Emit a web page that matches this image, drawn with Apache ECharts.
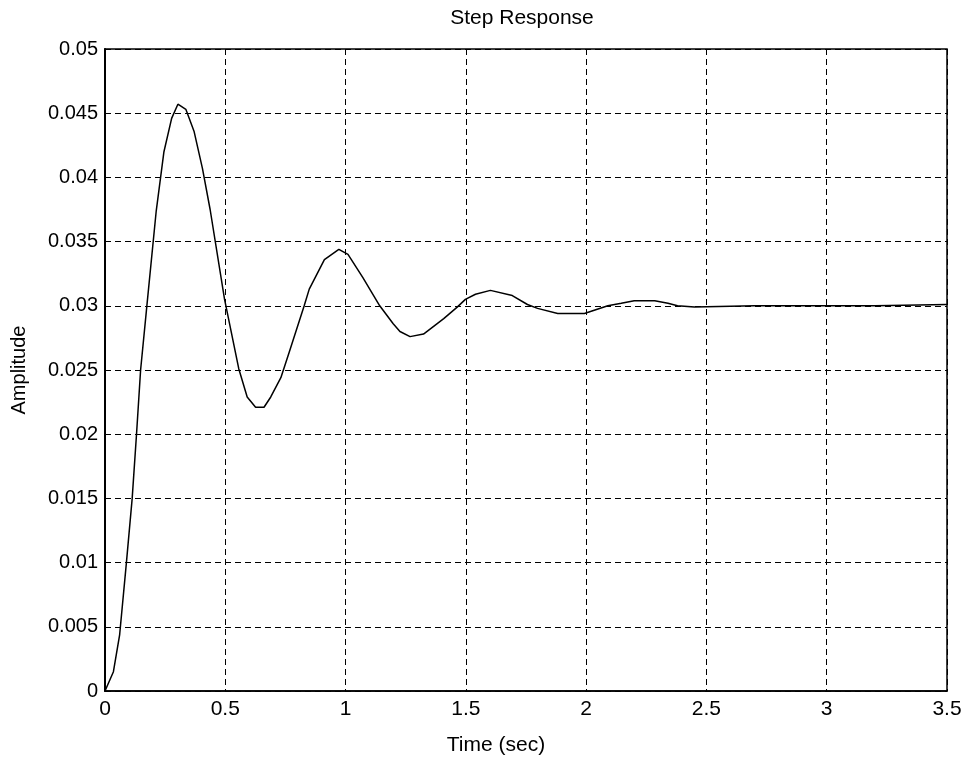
<!DOCTYPE html>
<html>
<head>
<meta charset="utf-8">
<title>Step Response</title>
<script src="https://cdn.jsdelivr.net/npm/echarts@6/dist/echarts.min.js"></script>
<style>
    html, body { margin: 0; padding: 0; background: #fff; }
    #chart { width: 964px; height: 758px; }
</style>
</head>
<body>
<div id="chart"></div>
<script>
// values
var timeSec = [0, 0.035, 0.061, 0.089, 0.113, 0.131, 0.148, 0.172, 0.213, 0.245, 0.277, 0.303,
    0.336, 0.370, 0.405, 0.437, 0.497, 0.556, 0.591, 0.626, 0.661, 0.689, 0.731, 0.766,
    0.828, 0.849, 0.912, 0.972, 1.010, 1.072, 1.142, 1.198, 1.226, 1.268, 1.324, 1.408,
    1.464, 1.498, 1.540, 1.602, 1.693, 1.756, 1.798, 1.882, 1.993, 2.090, 2.146, 2.200,
    2.285, 2.340, 2.380, 2.450, 2.700, 3.000, 3.200, 3.500];
var amplitude = [0, 0.0015, 0.0044, 0.0100, 0.0150, 0.0200, 0.0250, 0.0296, 0.0374, 0.0420, 0.0446, 0.0457,
    0.0453, 0.0436, 0.0407, 0.0375, 0.0305, 0.0251, 0.0229, 0.0221, 0.0221, 0.0229, 0.0244, 0.0264,
    0.0300, 0.0313, 0.0336, 0.0344, 0.0340, 0.0322, 0.0300, 0.0286, 0.0280, 0.0276, 0.0278, 0.0290,
    0.0299, 0.0305, 0.0309, 0.0312, 0.0308, 0.0301, 0.0298, 0.0294, 0.0294, 0.0300, 0.0302, 0.0304,
    0.0304, 0.0302, 0.0300, 0.0299, 0.0300, 0.0300, 0.0300, 0.0301];
var xTicks = ['0', '0.5', '1', '1.5', '2', '2.5', '3', '3.5'];
var yTicks = ['0', '0.005', '0.01', '0.015', '0.02', '0.025', '0.03', '0.035', '0.04', '0.045', '0.05'];

var font = '"Liberation Sans", Arial, sans-serif';
var dashed = { color: '#000', width: 1, type: [6, 4] };

var points = timeSec.map(function (t, i) { return [t, amplitude[i]]; });

var option = {
    backgroundColor: '#fff',
    animation: false,
    title: {
        text: 'Step Response',
        left: 517,
        top: 3,
        textAlign: 'center',
        textStyle: { fontFamily: font, fontSize: 21, fontWeight: 'normal', color: '#000' }
    },
    grid: {
        left: 105, right: 17, top: 49, bottom: 67,
        outerBoundsMode: 'none',
        containLabel: false,
        show: true, borderColor: '#000', borderWidth: 1.5, backgroundColor: '#fff'
    },
    xAxis: {
        type: 'value',
        min: 0, max: 3.5, interval: 0.5,
        name: 'Time (sec)',
        nameLocation: 'middle',
        nameGap: 44,
        nameTextStyle: { fontFamily: font, fontSize: 21, color: '#000', padding: [0, 60, 0, 0] },
        axisLine: { show: true, lineStyle: { color: '#000', width: 1.5 } },
        axisTick: { show: false },
        axisLabel: {
            fontFamily: font, fontSize: 21, color: '#000', margin: 8,
            formatter: function (v) { return xTicks[Math.round(v / 0.5)]; }
        },
        splitLine: { show: true, lineStyle: dashed }
    },
    yAxis: {
        type: 'value',
        min: 0, max: 0.05, interval: 0.005,
        name: 'Amplitude',
        nameLocation: 'middle',
        nameGap: 76,
        nameTextStyle: { fontFamily: font, fontSize: 20, color: '#000' },
        axisLine: { show: true, lineStyle: { color: '#000', width: 2 } },
        axisTick: { show: false },
        axisLabel: {
            fontFamily: font, fontSize: 20, color: '#000', margin: 7,
            formatter: function (v) { return yTicks[Math.round(v / 0.005)]; }
        },
        splitLine: { show: true, lineStyle: dashed }
    },
    series: [{
        type: 'line',
        data: points,
        showSymbol: false,
        smooth: false,
        lineStyle: { color: '#000', width: 1.5 }
    }]
};

var chart = echarts.init(document.getElementById('chart'), null, { renderer: 'canvas' });
chart.setOption(option);
</script>
</body>
</html>
